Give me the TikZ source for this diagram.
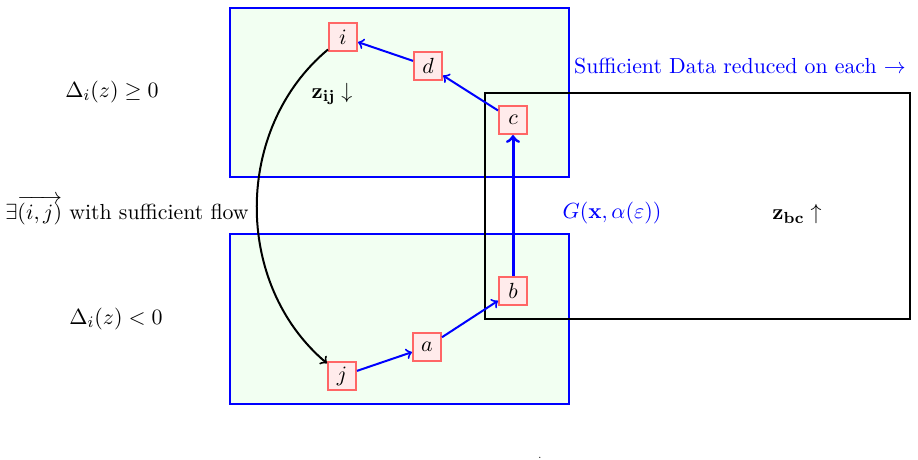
\documentclass[tikz,border=0pt]{standalone}
\usepackage{amsmath,amssymb}
\begin{document}
\begin{tikzpicture}[x=0.5pt,y=-0.5pt,
  every node/.style={font=\fontsize{10.9}{13}\selectfont},
  box/.style={draw=blue,line width=1pt,fill=green!5},
  v/.style={draw=red!60,line width=1pt,fill=red!8,minimum size=14pt,inner sep=1pt},
  ar/.style={->,blue,line width=1pt,>=to}]
\useasboundingbox (0,0) rectangle (918,460);
\draw[box] (230,8) rectangle (569,177);
\draw[box] (230,234) rectangle (569,404);
\draw[black,line width=1pt] (485,93) rectangle (910,319);
\node[v] (i) at (343,37) {$i$};
\node[v] (d) at (428,66) {$d$};
\node[v] (c) at (513,120) {$c$};
\node[v] (b) at (513,291) {$b$};
\node[v] (a) at (427,347) {$a$};
\node[v] (j) at (342,376) {$j$};
\draw[ar] (c) -- (d);
\draw[ar] (d) -- (i);
\draw[ar,line width=1.5pt] (b) -- (c);
\draw[ar] (j) -- (a);
\draw[ar] (a) -- (b);
\draw[->,>=to,line width=1pt] (i) to[bend right=50] (j);
\node (l1) at (112,92) {$\Delta_i(z)\geq 0$};
\node (l2) at (116,319) {$\Delta_i(z)<0$};
\node (l3) at (127,210) {$\exists\overrightarrow{(i,j)}$ with sufficient flow};
\node (l4) at (332,94) {$\mathbf{z_{ij}}\downarrow$};
\node[blue] (l5) at (740,66) {Sufficient Data reduced on each $\rightarrow$};
\node[blue] (l6) at (612,213) {$G(\mathbf{x},\alpha(\varepsilon))$};
\node (l7) at (797,214) {$\mathbf{z_{bc}}\uparrow$};
\node[inner sep=0pt] (dot) at (540,458) {\tiny.};
\end{tikzpicture}
\end{document}
